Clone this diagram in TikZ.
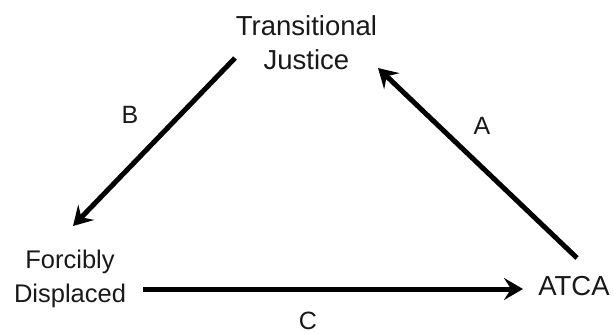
\documentclass[tikz,border=0pt]{standalone}
\usepackage{fontspec}
\setmainfont{Liberation Sans}
\usetikzlibrary{arrows.meta}
\tikzset{
  big/.style={inner sep=0pt, font=\fontsize{27.5}{34}\selectfont, text=black!90},
  mid/.style={inner sep=0pt, font=\fontsize{25.5}{34}\selectfont, text=black!90, align=center},
  lbl/.style={inner sep=0pt, font=\fontsize{25}{30}\selectfont, text=black!90},
  conn/.style={line width=5pt, -{Stealth[length=19pt,width=22pt,inset=7pt]}},
}
\begin{document}
\begin{tikzpicture}[x=1pt,y=-1pt]
\useasboundingbox[fill=white] (0,0) rectangle (614,333);
\node[big, align=center, anchor=south] (tj) at (306.5,70) {Transitional\\Justice};
\node[mid, anchor=south] (fd) at (70,307.5) {Forcibly\\Displaced};
\node[big, anchor=base] (atca) at (574,295) {ATCA};
\node[lbl] (la) at (482,125.5) {A};
\node[lbl] (lb) at (130,115) {B};
\node[lbl] (lc) at (308,320.5) {C};
\coordinate (a1) at (577,258);
\coordinate (a2) at (378,68);
\coordinate (b1) at (235,58);
\coordinate (b2) at (73,226);
\coordinate (c1) at (143,289);
\coordinate (c2) at (523,289);
\draw[conn] (a1) -- (a2);
\draw[conn] (b1) -- (b2);
\draw[conn] (c1) -- (c2);
\end{tikzpicture}
\end{document}
